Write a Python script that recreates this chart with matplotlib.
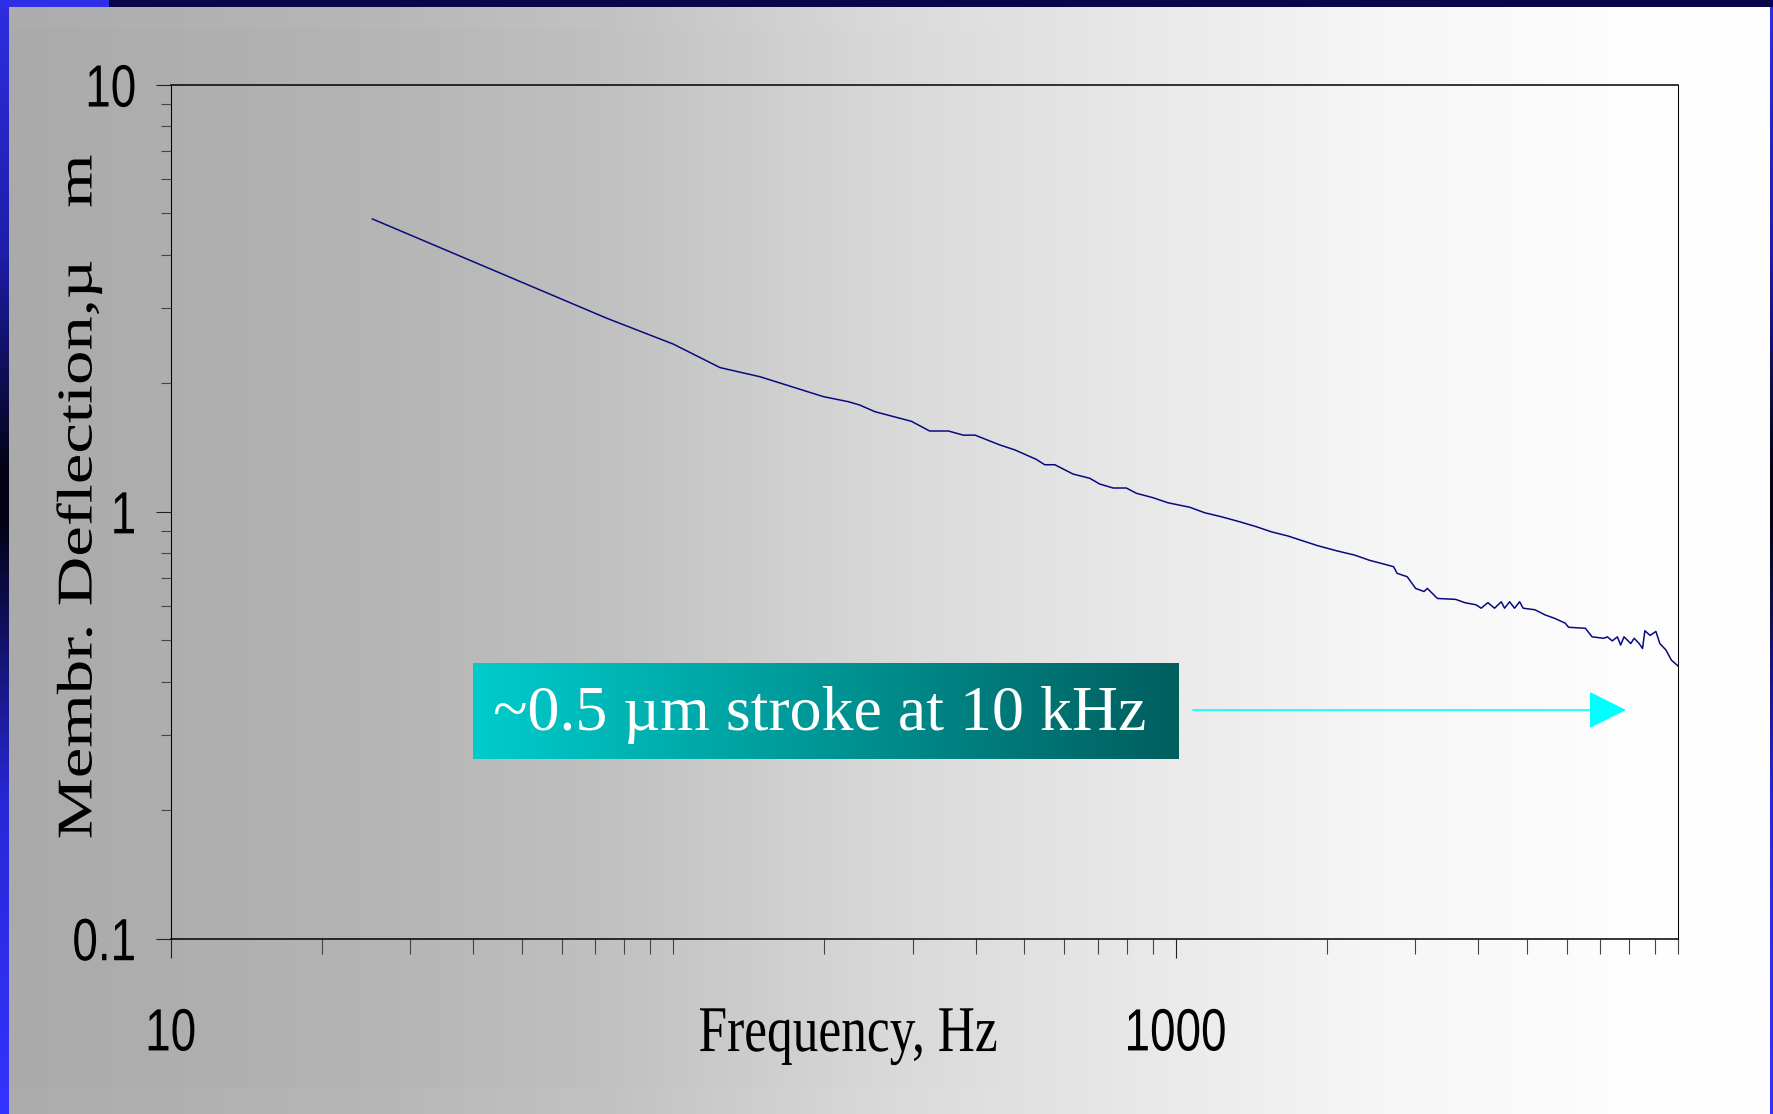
import numpy as np
import matplotlib
matplotlib.use("Agg")
import matplotlib.pyplot as plt
from matplotlib import font_manager
from matplotlib.patches import Rectangle
from matplotlib.patheffects import AbstractPathEffect
from matplotlib.transforms import Affine2D

# membrane deflection vs drive frequency
freq_hz = [25.2, 73.7, 100, 124, 149, 199, 223, 235, 252, 298,
           324, 353, 378, 399, 447, 479, 528, 549, 575, 625,
           675, 706, 751, 798, 836, 902, 966, 1067, 1143, 1233,
           1341, 1448, 1551, 1673, 1793, 1920, 2089, 2272, 2434, 2595,
           2716, 2760, 2891, 3004, 3122, 3170, 3321, 3609, 3765, 3964,
           4057, 4184, 4314, 4449, 4517, 4622, 4728, 4840, 4918, 5192,
           5437, 5692, 5963, 6056, 6542, 6745, 7118, 7233, 7400, 7574,
           7689, 7810, 8053, 8180, 8369, 8500, 8590, 8800, 9037, 9200,
           9465, 9700, 10000]
deflection_um = [4.85, 2.84, 2.47, 2.175, 2.07, 1.86, 1.81, 1.778, 1.715, 1.628,
                 1.545, 1.545, 1.511, 1.511, 1.433, 1.395, 1.326, 1.288, 1.288, 1.225,
                 1.197, 1.161, 1.136, 1.136, 1.104, 1.078, 1.049, 1.024, 0.994, 0.973,
                 0.947, 0.922, 0.897, 0.877, 0.854, 0.832, 0.810, 0.791, 0.769, 0.754,
                 0.743, 0.717, 0.704, 0.661, 0.650, 0.661, 0.626, 0.623, 0.612, 0.605,
                 0.594, 0.612, 0.594, 0.615, 0.594, 0.615, 0.594, 0.615, 0.594, 0.589,
                 0.573, 0.562, 0.548, 0.536, 0.533, 0.509, 0.505, 0.509, 0.498, 0.509,
                 0.487, 0.509, 0.491, 0.505, 0.491, 0.478, 0.526, 0.513, 0.524, 0.491,
                 0.474, 0.449, 0.435]

x_major = [10, 1000]
x_major_labels = ['10', '1000']
y_major = [0.1, 1, 10]
y_major_labels = ['0.1', '1', '10']

x_title = 'Frequency, Hz'
y_title = 'Membr. Deflection,\u00b5   m'
note = '~0.5 \u00b5m stroke at 10 kHz'

W, H = 1773, 1114


class Stretch(AbstractPathEffect):
    # scales glyphs in the text's own frame about the ink centre
    # (the original chart was stretched non-uniformly)
    def __init__(self, sx=1.0, sy=1.0):
        super().__init__()
        self.sx, self.sy = sx, sy

    def draw_path(self, renderer, gc, tpath, affine, rgbFace=None):
        ext = tpath.get_extents()
        cx, cy = (ext.x0 + ext.x1) / 2, (ext.y0 + ext.y1) / 2
        pre = Affine2D().translate(-cx, -cy).scale(self.sx, self.sy).translate(cx, cy)
        renderer.draw_path(gc, tpath, pre + affine, rgbFace)


installed = {f.name for f in font_manager.fontManager.ttflist}
if 'Liberation Sans Narrow' in installed:
    tick_font, tick_size, tick_stretch, xpad = 'Liberation Sans Narrow', 41, 1.05, 35
else:
    tick_font, tick_size, tick_stretch, xpad = 'Liberation Sans', 33, 1.3, 39
serif = 'Liberation Serif'

fig = plt.figure(figsize=(W / 100, H / 100), dpi=100)

# slide background: horizontal grey -> white gradient + blue frame
bg = fig.add_axes([0, 0, 1, 1], zorder=-10)
xs = np.arange(W)
grey = np.interp(xs, [0, 10, 360, 600, 880, 1100, 1378, 1640, W],
                 [170, 170, 180, 192, 216, 230, 246, 254, 255]) / 255
bg.imshow(np.dstack([grey, grey, grey]).repeat(2, axis=0),
          aspect='auto', extent=(0, W, H, 0), interpolation='bilinear')
ys = np.arange(H)
rg = np.interp(ys, [0, 250, 470, 520, 800, H], [46, 30, 2, 2, 40, 51]) / 255
bl = np.interp(ys, [0, 250, 470, 520, 800, H], [225, 170, 20, 20, 215, 255]) / 255
strip = np.dstack([rg, rg, bl]).reshape(H, 1, 3).repeat(2, axis=1)
bg.imshow(strip, aspect='auto', extent=(0, 9, H, 0))
bg.imshow(strip, aspect='auto', extent=(W - 3, W, H, 0))
bg.add_patch(Rectangle((0, 0), W, 7, color='#07074a', lw=0))
bg.add_patch(Rectangle((0, 0), 109, 7, color='#2e2ee6', lw=0))
bg.add_patch(Rectangle((9, 7), W - 12, 23, color='white', alpha=0.03, lw=0))
bg.add_patch(Rectangle((9, 1088), W - 12, 26, color='white', alpha=0.03, lw=0))
bg.set_xlim(0, W)
bg.set_ylim(H, 0)
bg.set_axis_off()

ax = fig.add_axes([170.7 / W, 1 - 938.5 / H, 1507.3 / W, 853.7 / H])
ax.patch.set_visible(False)
ax.plot(freq_hz, deflection_um, color='#0a0a80', lw=1.1)
ax.set_xscale('log')
ax.set_yscale('log')
ax.set_xlim(10, 10000)
ax.set_ylim(0.1, 10)

ax.set_xticks(x_major)
ax.set_xticklabels(x_major_labels)
x_minor = [k * 10 ** d for d in (1, 2, 3) for k in range(2, 10)] + [100, 10000]
ax.set_xticks(x_minor, minor=True)
ax.set_yticks(y_major)
ax.set_yticklabels(y_major_labels)
y_minor = [k * 10.0 ** d for d in (-1, 0) for k in range(2, 10)]
ax.set_yticks(y_minor, minor=True)
ax.yaxis.set_minor_formatter(matplotlib.ticker.NullFormatter())
ax.xaxis.set_minor_formatter(matplotlib.ticker.NullFormatter())

ax.tick_params(axis='x', which='major', direction='out', length=13.7, width=0.8,
               color='#222222', pad=xpad, labelsize=tick_size)
ax.tick_params(axis='x', which='minor', direction='out', length=10.8, width=0.8,
               color='#444444')
ax.tick_params(axis='y', which='major', direction='out', length=10.8, width=0.8,
               color='#222222', pad=14, labelsize=tick_size)
ax.tick_params(axis='y', which='minor', direction='out', length=7.2, width=0.8,
               color='#444444')
for lab in ax.get_xticklabels() + ax.get_yticklabels():
    lab.set_family(tick_font)
    lab.set_path_effects([Stretch(1.0, tick_stretch)])

for side in ('top', 'bottom'):
    ax.spines[side].set_linewidth(1.1)
for side in ('left', 'right'):
    ax.spines[side].set_linewidth(0.75)

fig.text(848 / W, 1 - 1048 / H, x_title, ha='center', va='baseline',
         fontsize=37, family=serif, path_effects=[Stretch(1.0, 1.27)])
fig.text(79 / W, 1 - 497 / H, y_title, ha='center', va='center', rotation=90,
         fontsize=36, family=serif, path_effects=[Stretch(1.375, 1.0)])

# callout box with teal gradient
box = fig.add_axes([472.7 / W, 1 - 758.7 / H, 705.3 / W, 96 / H])
t = np.linspace(0, 1, 256)
teal = np.dstack([t * 0, 204 - 110 * t, 204 - 110 * t]) / 255
box.imshow(teal.repeat(2, axis=0), aspect='auto', extent=(0, 1, 0, 1))
box.set_xlim(0, 1)
box.set_ylim(0, 1)
box.set_axis_off()
box.text(0.4924, 0.299, note, ha='center', va='baseline', color='white',
         fontsize=46, family=serif)

fig.add_artist(matplotlib.patches.FancyArrowPatch(
    (1193 / W, 1 - 710 / H), (1626 / W, 1 - 710 / H),
    transform=fig.transFigure, arrowstyle='-|>,head_length=2.4,head_width=1.2',
    mutation_scale=10, color='#00ffff', lw=1.2, shrinkA=0, shrinkB=0))

fig.savefig('out.png', dpi=100)
